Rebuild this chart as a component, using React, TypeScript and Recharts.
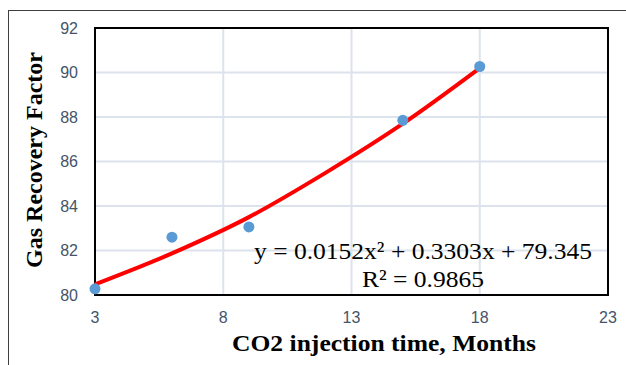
import React from 'react';
import {
  ComposedChart,
  Scatter,
  Line,
  XAxis,
  YAxis,
  CartesianGrid,
  ReferenceArea,
} from 'recharts';

// measured points
const months = [3, 6, 9, 15, 18];
const recovery = [80.28, 82.6, 83.06, 87.85, 90.27];

// polynomial trendline
const trendMonths = [3, 6, 9, 12, 15, 18];
const trendValues = [80.48, 81.87, 83.5, 85.5, 87.7, 90.2];

const xTicks = [3, 8, 13, 18, 23];
const yTicks = [80, 82, 84, 86, 88, 90, 92];

const equation = 'y = 0.0152x\u00B2 + 0.3303x + 79.345';
const rSquared = 'R\u00B2 = 0.9865';

const points = months.map((m, i) => ({ x: m, y: recovery[i] }));
const trend = trendMonths.map((m, i) => ({ x: m, y: trendValues[i] }));

const tickStyle = { fill: '#44546a', fontSize: 16, fontFamily: 'Liberation Sans, Arial, sans-serif' };
const serif = 'Liberation Serif, Times New Roman, serif';

const Dot = (props: any) => (
  <circle cx={props.cx} cy={props.cy} r={5.5} fill="#5b9bd5" />
);

const App: React.FC = () => {
  return (
    <div
      style={{
        position: 'fixed',
        left: 0,
        top: 0,
        width: 626,
        height: 365,
        background: '#fff',
      }}
    >
      <div
        style={{
          position: 'absolute',
          left: 8,
          top: 10,
          right: 0,
          bottom: 0,
          borderTop: '1px solid #404040',
          borderLeft: '1px solid #404040',
        }}
      />
      <ComposedChart
        width={626}
        height={365}
        margin={{ top: 28, right: 18, left: 0, bottom: 0 }}
        style={{ position: 'absolute', left: 0, top: 0 }}
      >
        <CartesianGrid stroke="#dce3ec" strokeWidth={2} />
        <XAxis
          type="number"
          dataKey="x"
          domain={[3, 23]}
          ticks={xTicks}
          height={70}
          tickLine={false}
          axisLine={false}
          tickSize={0}
          tickMargin={17}
          tick={tickStyle}
          allowDuplicatedCategory={false}
        />
        <YAxis
          type="number"
          dataKey="y"
          domain={[80, 92]}
          ticks={yTicks}
          width={95}
          tickLine={false}
          axisLine={false}
          tickSize={0}
          tickMargin={17}
          tick={tickStyle}
        />
        <ReferenceArea
          x1={3}
          x2={23}
          y1={80}
          y2={92}
          fill="none"
          stroke="#000"
          strokeWidth={2}
          ifOverflow="visible"
        />
        <Line
          data={trend}
          dataKey="y"
          type="monotone"
          stroke="#ff0000"
          strokeWidth={4}
          dot={false}
          activeDot={false}
          isAnimationActive={false}
        />
        <Scatter data={points} dataKey="y" shape={Dot} isAnimationActive={false} />
        <text
          x={254}
          y={259}
          textLength={338}
          lengthAdjust="spacingAndGlyphs"
          fontFamily={serif}
          fontSize={24}
          fill="#000"
        >
          {equation}
        </text>
        <text
          x={362}
          y={287}
          textLength={122}
          lengthAdjust="spacingAndGlyphs"
          fontFamily={serif}
          fontSize={24}
          fill="#000"
        >
          {rSquared}
        </text>
        <text
          x={232}
          y={351}
          textLength={304}
          lengthAdjust="spacingAndGlyphs"
          fontFamily={serif}
          fontWeight="bold"
          fontSize={24}
          fill="#000"
        >
          CO2 injection time, Months
        </text>
        <text
          transform="rotate(-90)"
          x={-160}
          y={42}
          textAnchor="middle"
          fontFamily={serif}
          fontWeight="bold"
          fontSize={24}
          fill="#000"
        >
          Gas Recovery Factor
        </text>
      </ComposedChart>
    </div>
  );
};

export default App;
